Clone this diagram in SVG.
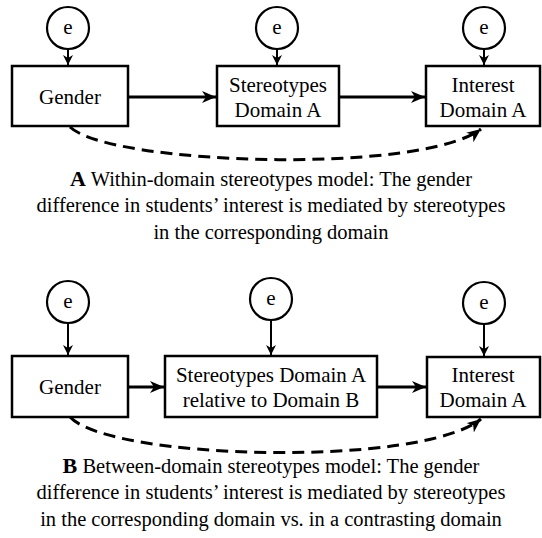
<svg xmlns="http://www.w3.org/2000/svg" width="542" height="538" viewBox="0 0 542 538">
<style>
.box{fill:#fff;stroke:#000;stroke-width:2.5}
.err{fill:#fff;stroke:#000;stroke-width:2.2}
.t{font-family:"Liberation Serif","Times New Roman",serif;font-size:21px;fill:#000;text-anchor:middle}
.cap{font-family:"Liberation Serif","Times New Roman",serif;font-size:20.5px;fill:#000;text-anchor:middle}
.thick{stroke:#000;stroke-width:3;fill:none;marker-end:url(#ah)}
.thin{stroke:#000;stroke-width:2;fill:none;marker-end:url(#ahs)}
.dash{stroke:#000;stroke-width:3;fill:none;stroke-dasharray:12 7;marker-end:url(#ahd)}
</style>
<defs>
<marker id="ah" markerUnits="userSpaceOnUse" markerWidth="16" markerHeight="12" refX="14" refY="6" orient="auto">
<path d="M0,0 L14,6 L0,12 L4,6 z" fill="#000"/>
</marker>
<marker id="ahs" markerUnits="userSpaceOnUse" markerWidth="12" markerHeight="10" refX="10" refY="5" orient="auto">
<path d="M0,0 L10,5 L0,10 L3,5 z" fill="#000"/>
</marker>
<marker id="ahd" markerUnits="userSpaceOnUse" markerWidth="16" markerHeight="12" refX="14" refY="6" orient="auto">
<path d="M0,0 L14,6 L0,12 L4,6 z" fill="#000"/>
</marker>
</defs>
<g id="connectors">
<line class="thin" x1="68" y1="49" x2="68" y2="65"/>
<line class="thin" x1="277" y1="49" x2="277" y2="65"/>
<line class="thin" x1="484" y1="49" x2="484" y2="65"/>
<line class="thick" x1="128" y1="97" x2="216" y2="97"/>
<line class="thick" x1="339" y1="97" x2="425" y2="97"/>
<path class="dash" d="M70,127 C110,165 420,175 481,129"/>
<line class="thin" x1="68" y1="323" x2="68" y2="355"/>
<line class="thin" x1="271" y1="320" x2="271" y2="355"/>
<line class="thin" x1="484" y1="324" x2="484" y2="356"/>
<line class="thick" x1="128" y1="387" x2="164" y2="387"/>
<line class="thick" x1="377" y1="387" x2="426" y2="387"/>
<path class="dash" d="M70,417 C110,460 420,468 481,419"/>
</g>
<g id="e1"><circle class="err" cx="68" cy="28" r="21"/><text class="t" x="68" y="34">e</text></g>
<g id="e2"><circle class="err" cx="277" cy="28" r="21"/><text class="t" x="277" y="34">e</text></g>
<g id="e3"><circle class="err" cx="484" cy="28" r="21"/><text class="t" x="484" y="34">e</text></g>
<g id="genderA"><rect class="box" x="12" y="66" width="116" height="60"/><text class="t" x="70" y="104">Gender</text></g>
<g id="stereoA"><rect class="box" x="217" y="66" width="122" height="60"/><text class="t" x="278" y="92">Stereotypes</text><text class="t" x="278" y="117">Domain A</text></g>
<g id="interestA"><rect class="box" x="426" y="66" width="114" height="60"/><text class="t" x="483" y="92">Interest</text><text class="t" x="483" y="117">Domain A</text></g>
<g id="captionA">
<text class="cap" x="271" y="186"><tspan font-weight="bold" font-size="22">A</tspan> Within-domain stereotypes model: The gender</text>
<text class="cap" x="271" y="212">difference in students’ interest is mediated by stereotypes</text>
<text class="cap" x="271" y="239">in the corresponding domain</text>
</g>
<g id="e4"><circle class="err" cx="68" cy="302" r="21"/><text class="t" x="68" y="308">e</text></g>
<g id="e5"><circle class="err" cx="271" cy="299" r="21"/><text class="t" x="271" y="305">e</text></g>
<g id="e6"><circle class="err" cx="484" cy="303" r="21"/><text class="t" x="484" y="309">e</text></g>
<g id="genderB"><rect class="box" x="12" y="356" width="116" height="61"/><text class="t" x="70" y="394">Gender</text></g>
<g id="stereoB"><rect class="box" x="165" y="356" width="212" height="61"/><text class="t" x="271" y="382">Stereotypes Domain A</text><text class="t" x="271" y="407">relative to Domain B</text></g>
<g id="interestB"><rect class="box" x="427" y="357" width="113" height="60"/><text class="t" x="483" y="382">Interest</text><text class="t" x="483" y="407">Domain A</text></g>
<g id="captionB">
<text class="cap" x="271" y="473"><tspan font-weight="bold" font-size="22">B</tspan> Between-domain stereotypes model: The gender</text>
<text class="cap" x="271" y="499">difference in students’ interest is mediated by stereotypes</text>
<text class="cap" x="271" y="526">in the corresponding domain vs. in a contrasting domain</text>
</g>
</svg>
